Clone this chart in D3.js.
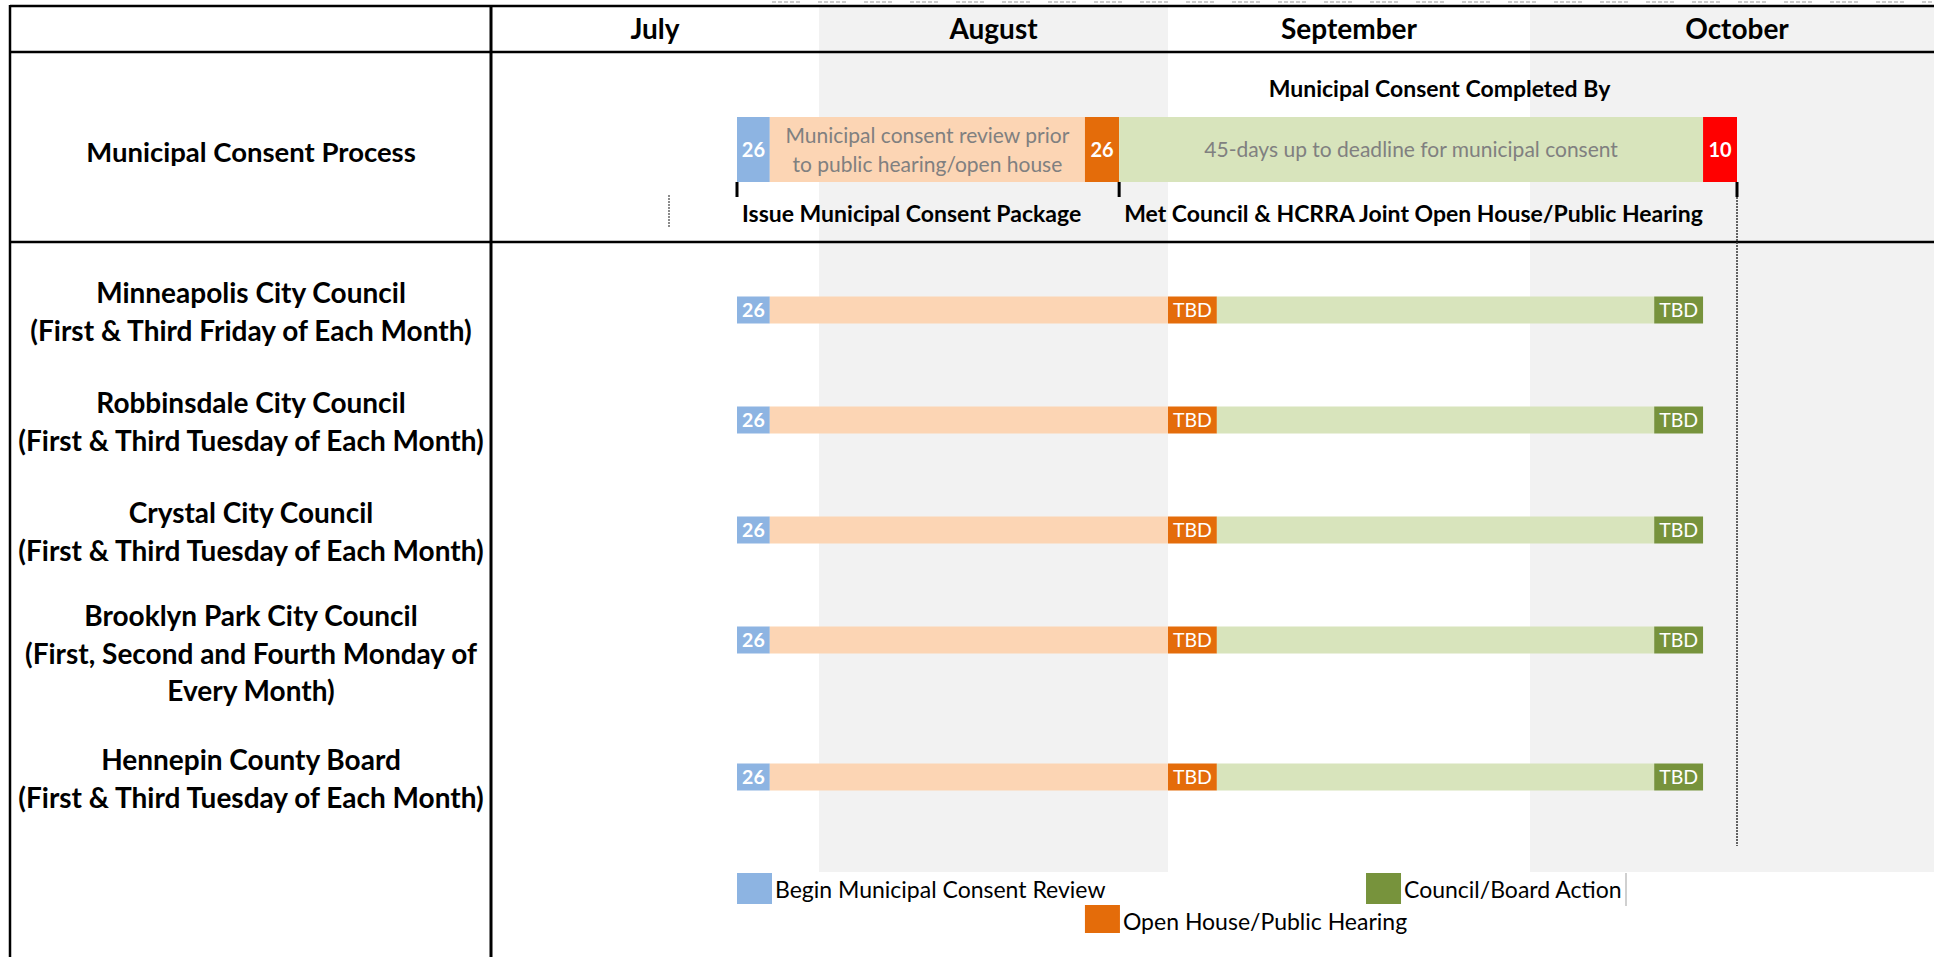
<!DOCTYPE html>
<html>
<head>
<meta charset="utf-8">
<script src="https://cdn.jsdelivr.net/npm/d3@7"></script>
<style>
  body { margin: 0; background: #fff; }
  svg { display: block; font-family: Lato, "Open Sans", sans-serif; }
</style>
</head>
<body>
<svg id="chart"></svg>
<script>
// months across the top, timeline runs in month units (0 = start of July)
const months = ["July", "August", "September", "October"];
const shadedMonths = ["August", "October"];

// top row: municipal consent process
const processPhases = ["begin", "review", "hearing", "window", "deadline"];
const processStarts = [0.75, 0.85, 1.762, 1.86, 3.418];
const processEnds = [0.85, 1.762, 1.86, 3.418, 3.5];
const processLabels = ["26", "Municipal consent review prior|to public hearing/open house", "26",
  "45-days up to deadline for municipal consent", "10"];

// milestones under/over the process bar
const milestoneNames = ["Issue Municipal Consent Package", "Met Council & HCRRA Joint Open House/Public Hearing", ""];
const milestonePos = [0.75, 1.86, 3.5];
const completedTitle = "Municipal Consent Completed By";
const completedPos = 2.75;

// council / board rows
const boards = [
  ["Minneapolis City Council", "(First & Third Friday of Each Month)"],
  ["Robbinsdale City Council", "(First & Third Tuesday of Each Month)"],
  ["Crystal City Council", "(First & Third Tuesday of Each Month)"],
  ["Brooklyn Park City Council", "(First, Second and Fourth Monday of", "Every Month)"],
  ["Hennepin County Board", "(First & Third Tuesday of Each Month)"]
];
const boardPhases = ["begin", "review", "hearing", "window", "action"];
const boardStarts = [0.75, 0.85, 2.0, 2.135, 3.3];
const boardEnds = [0.85, 2.0, 2.135, 3.3, 3.418];
const boardLabels = ["26", "", "TBD", "", "TBD"];

// legend
const legendPhases = ["begin", "hearing", "action"];
const legendNames = ["Begin Municipal Consent Review", "Open House/Public Hearing", "Council/Board Action"];

const colors = {
  begin: "#8db4e2", review: "#fcd5b4", hearing: "#e46c0a",
  window: "#d8e4bc", deadline: "#ff0000", action: "#77933c"
};
const lightPhases = ["review", "window"];

const W = 1934, H = 957;
const svg = d3.select("#chart").attr("width", W).attr("height", H);

const x = d3.scaleLinear().domain([0, 1, 2, 3, 4]).range([491, 819, 1168, 1530, 1944]);

// shaded month columns
svg.selectAll("rect.band")
  .data(months.map((m, i) => ({m, i})).filter(d => shadedMonths.includes(d.m)))
  .join("rect")
  .attr("class", "band")
  .attr("x", d => x(d.i))
  .attr("width", d => x(d.i + 1) - x(d.i))
  .attr("y", 7)
  .attr("height", 865)
  .attr("fill", "#f2f2f2");

// faint dashed border remnants above the header
svg.append("line")
  .attr("x1", 772).attr("x2", W).attr("y1", 2).attr("y2", 2)
  .attr("stroke", "#999").attr("stroke-width", 1).attr("stroke-dasharray", "4,2,4,2,4,2,4,2,4,18");

// table lines
const grid = svg.append("g").attr("stroke", "#000").attr("stroke-width", 2.5);
grid.append("line").attr("x1", 10).attr("x2", W).attr("y1", 6).attr("y2", 6);
grid.append("line").attr("x1", 10).attr("x2", W).attr("y1", 52).attr("y2", 52);
grid.append("line").attr("x1", 10).attr("x2", W).attr("y1", 242).attr("y2", 242);
grid.append("line").attr("x1", 10).attr("x2", 10).attr("y1", 5).attr("y2", H);
grid.append("line").attr("x1", 491).attr("x2", 491).attr("y1", 5).attr("y2", H).attr("stroke-width", 3);

// month headers
svg.selectAll("text.month")
  .data(months)
  .join("text")
  .attr("class", "month")
  .attr("x", (d, i) => (x(i) + x(i + 1)) / 2)
  .attr("y", 39)
  .attr("text-anchor", "middle")
  .attr("font-weight", 700)
  .attr("font-size", 28)
  .text(d => d);

// ---- process row ----
const pTop = 117, pH = 65;
const proc = processPhases.map((p, i) => ({phase: p, start: processStarts[i], end: processEnds[i], label: processLabels[i]}));

svg.selectAll("rect.proc")
  .data(proc)
  .join("rect")
  .attr("class", "proc")
  .attr("x", d => x(d.start))
  .attr("width", d => x(d.end) - x(d.start))
  .attr("y", pTop)
  .attr("height", pH)
  .attr("fill", d => colors[d.phase]);

proc.forEach(d => {
  const lines = d.label.split("|");
  const light = lightPhases.includes(d.phase);
  const t = svg.append("text")
    .attr("x", (x(d.start) + x(d.end)) / 2)
    .attr("text-anchor", "middle")
    .attr("font-size", light ? 21 : 20)
    .attr("font-weight", light ? 400 : 700)
    .attr("fill", light ? "#808080" : "#fff");
  if (lines.length === 1) {
    t.attr("y", pTop + pH / 2 + 7).text(lines[0]);
  } else {
    lines.forEach((l, j) => t.append("tspan")
      .attr("x", (x(d.start) + x(d.end)) / 2)
      .attr("y", pTop + 26 + j * 29)
      .text(l));
  }
});

svg.append("text")
  .attr("x", x(completedPos))
  .attr("y", 97)
  .attr("text-anchor", "middle")
  .attr("font-weight", 700)
  .attr("font-size", 23)
  .text(completedTitle);

// milestone ticks and labels
milestonePos.forEach((p, i) => {
  svg.append("rect")
    .attr("x", x(p) - 1.5).attr("width", 3)
    .attr("y", pTop + pH).attr("height", 15)
    .attr("fill", "#000");
  if (milestoneNames[i]) {
    svg.append("text")
      .attr("x", x(p) + 5)
      .attr("y", 222)
      .attr("font-weight", 700)
      .attr("font-size", 23)
      .text(milestoneNames[i]);
  }
});

// dotted guide lines
svg.append("line")
  .attr("x1", x(3.5)).attr("x2", x(3.5)).attr("y1", 197).attr("y2", 846)
  .attr("stroke", "#333").attr("stroke-width", 1.5).attr("stroke-dasharray", "2,1");
svg.append("line")
  .attr("x1", 669).attr("x2", 669).attr("y1", 195).attr("y2", 228)
  .attr("stroke", "#666").attr("stroke-width", 1.5).attr("stroke-dasharray", "2,1");

// row labels
svg.append("text")
  .attr("x", 251).attr("y", 162)
  .attr("text-anchor", "middle")
  .attr("font-weight", 700)
  .attr("font-size", 27.5)
  .text("Municipal Consent Process");

// ---- board rows ----
const barH = 27;
let yc = 310;
const rowCenters = boards.map(b => {
  const c = yc;
  yc += 56 + 27 * b.length;
  return c;
});

boards.forEach((lines, r) => {
  const c = rowCenters[r];
  const t = svg.append("text")
    .attr("text-anchor", "middle")
    .attr("font-weight", 700)
    .attr("font-size", 28);
  lines.forEach((l, j) => t.append("tspan")
    .attr("x", 251)
    .attr("y", c - 7 - (lines.length - 2) * 7 + j * 37.5)
    .text(l));

  const segs = boardPhases.map((p, i) => ({phase: p, start: boardStarts[i], end: boardEnds[i], label: boardLabels[i]}));
  const g = svg.append("g");
  g.selectAll("rect")
    .data(segs)
    .join("rect")
    .attr("x", d => x(d.start))
    .attr("width", d => x(d.end) - x(d.start))
    .attr("y", c - barH / 2)
    .attr("height", barH)
    .attr("fill", d => colors[d.phase]);
  g.selectAll("text")
    .data(segs.filter(d => d.label))
    .join("text")
    .attr("x", d => (x(d.start) + x(d.end)) / 2)
    .attr("y", c + 7)
    .attr("text-anchor", "middle")
    .attr("font-size", 19.5)
    .attr("font-weight", d => d.label === "TBD" ? 400 : 700)
    .attr("fill", "#fff")
    .text(d => d.label);
});

// ---- legend ----
const legendX = [0.75, 1.762, 2.547];
const legendRow = [0, 1, 0];
const leg = svg.append("g");
legendPhases.forEach((p, i) => {
  const y0 = 873 + legendRow[i] * 32;
  leg.append("rect")
    .attr("x", x(legendX[i])).attr("y", y0)
    .attr("width", 35).attr("height", legendRow[i] ? 28 : 31)
    .attr("fill", colors[p]);
  leg.append("text")
    .attr("x", x(legendX[i]) + 38)
    .attr("y", y0 + 25)
    .attr("font-size", 23)
    .text(legendNames[i]);
});
svg.append("line")
  .attr("x1", 1626).attr("x2", 1626).attr("y1", 873).attr("y2", 906)
  .attr("stroke", "#d0d0d0").attr("stroke-width", 2);
</script>
</body>
</html>
